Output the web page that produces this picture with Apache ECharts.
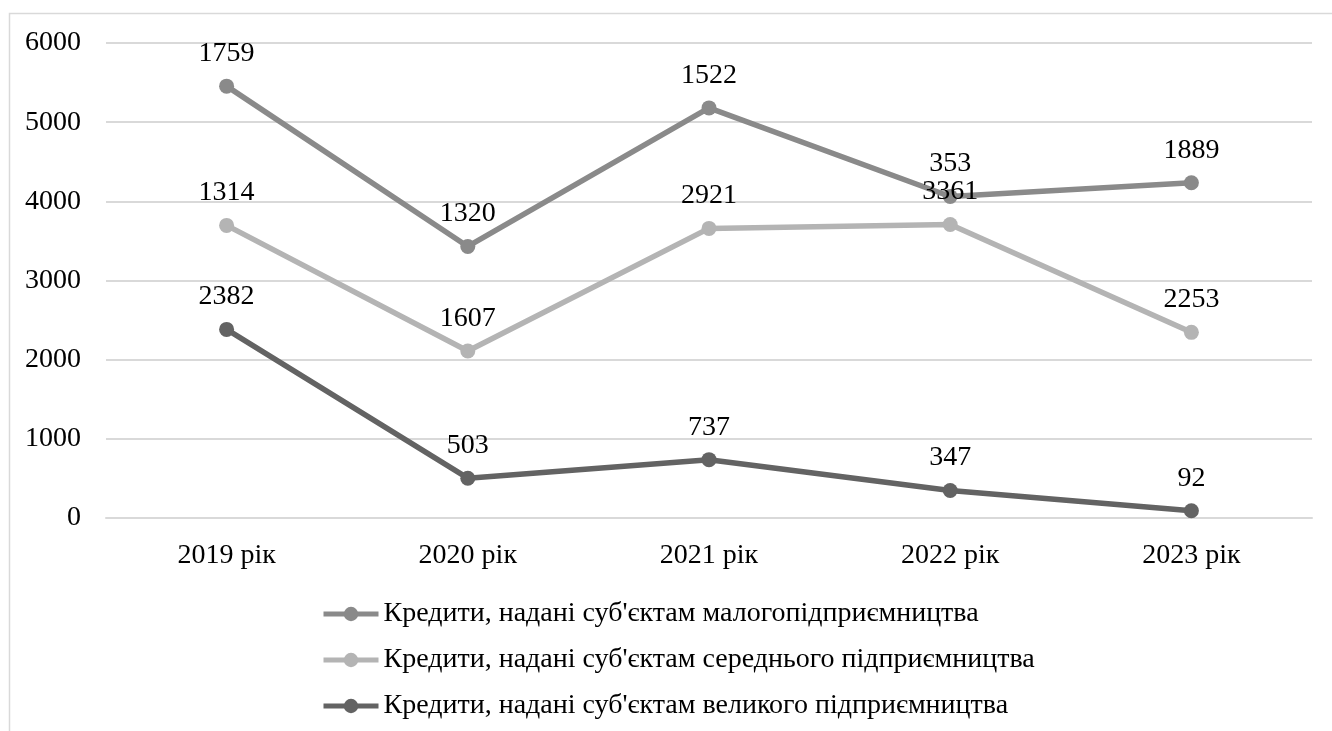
<!DOCTYPE html>
<html>
<head>
<meta charset="utf-8">
<script src="https://cdn.jsdelivr.net/npm/echarts@6/dist/echarts.min.js"></script>
<style>html,body{margin:0;padding:0;background:#fff}#c{width:1332px;height:731px}</style>
</head>
<body>
<div id="c"></div>
<script>
const categories = ['2019 рік', '2020 рік', '2021 рік', '2022 рік', '2023 рік'];
const smallName = "Кредити, надані суб'єктам малогопідприємництва";
const mediumName = "Кредити, надані суб'єктам середнього підприємництва";
const largeName = "Кредити, надані суб'єктам великого підприємництва";
const smallValues = [1759, 1320, 1522, 353, 1889];
const mediumValues = [1314, 1607, 2921, 3361, 2253];
const largeValues = [2382, 503, 737, 347, 92];
const yTicks = [0, 1000, 2000, 3000, 4000, 5000, 6000];

const FONT = '"Liberation Serif", "Times New Roman", serif';
function mk(name, data, color, z) {
  return {
    name, type: 'line', stack: 'total', data, z,
    symbol: 'circle', symbolSize: 15,
    lineStyle: { color, width: 5.5 },
    itemStyle: { color },
    label: { show: true, position: 'top', distance: 11, color: '#000', fontFamily: FONT, fontSize: 28 },
    emphasis: { disabled: true }
  };
}
const chart = echarts.init(document.getElementById('c'));
chart.setOption({
  animation: false,
  graphic: [{ type: 'rect', shape: { x: 9.5, y: 13.5, width: 1400, height: 800 }, style: { fill: 'none', stroke: '#d9d9d9', lineWidth: 1.5 }, silent: true, z: -10 }],
  grid: { left: 106, right: 20, top: 43, bottom: 213 },
  legend: {
    orient: 'vertical', left: 316, top: 595, itemWidth: 55, itemHeight: 18, itemGap: 18,
    data: [smallName, mediumName, largeName],
    lineStyle: { width: 5 },
    textStyle: { fontFamily: FONT, fontSize: 28, color: '#000' }
  },
  xAxis: {
    type: 'category', data: categories, boundaryGap: true,
    axisLine: { show: true, lineStyle: { color: '#d9d9d9', width: 2 } },
    axisTick: { show: false },
    axisLabel: { margin: 24, fontFamily: FONT, fontSize: 28, color: '#000' }
  },
  yAxis: {
    type: 'value', min: yTicks[0], max: yTicks[yTicks.length - 1], interval: 1000,
    axisLine: { show: false }, axisTick: { show: false },
    splitLine: { lineStyle: { color: '#d9d9d9', width: 2 } },
    axisLabel: { margin: 25, fontFamily: FONT, fontSize: 28, color: '#000', formatter: v => String(v) }
  },
  series: [
    mk(largeName, largeValues, '#636363', 3),
    mk(mediumName, mediumValues, '#b4b4b4', 2),
    mk(smallName, smallValues, '#8a8a8a', 1)
  ]
});
</script>
</body>
</html>
